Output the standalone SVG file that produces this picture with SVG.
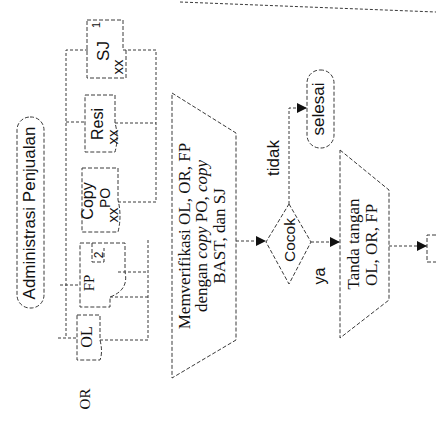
<svg xmlns="http://www.w3.org/2000/svg" width="436" height="425" viewBox="0 0 436 425">
<defs>
<style>
.sh{fill:none;stroke:#3a3a3a;stroke-width:1;stroke-dasharray:4 2}
.cn{fill:none;stroke:#3a3a3a;stroke-width:1;stroke-dasharray:3 2}
.sans{font-family:"Liberation Sans",Arial,sans-serif;fill:#111;text-anchor:middle}
.serif{font-family:"Liberation Serif","Times New Roman",serif;fill:#111;text-anchor:middle}
.it{font-style:italic}
</style>
<marker id="ah" viewBox="0 0 10 10" refX="10" refY="5" markerWidth="10" markerHeight="10" markerUnits="userSpaceOnUse" orient="auto"><path d="M0,0 L10,5 L0,10 z" fill="#111"/></marker>
</defs>
<rect width="436" height="425" fill="#fff"/>
<path class="cn" d="M180,2 L436,12"/>

<g id="start">
<rect class="sh" x="17" y="117" width="27" height="191" rx="13"/>
<text class="sans" font-size="17" transform="translate(35,213) rotate(-90)">Administrasi Penjualan</text>
</g>

<g id="doc-sj">
<path class="sh" d="M87,20 H123 V50 M126,50 V78 H87 V20"/>
<text class="sans" font-size="17" transform="translate(109,51) rotate(-90)">SJ</text>
<text class="sans" font-size="15" transform="translate(123,67) rotate(-90)">xx</text>
<text class="sans" font-size="11" transform="translate(100,25) rotate(-90)">1</text>
</g>
<g id="doc-resi">
<path class="sh" d="M85,95 H115 V123 Q119,137 115,152 H85 Z"/>
<text class="sans" font-size="16" transform="translate(103,124) rotate(-90)">Resi</text>
<text class="sans" font-size="15" transform="translate(118,137) rotate(-90)">xx</text>
</g>
<g id="doc-copypo">
<path class="sh" d="M82,168 H118 V200 Q122,216 118,232 H82 Z"/>
<text class="sans" font-size="16" transform="translate(93,201) rotate(-90)">Copy</text>
<text class="sans" font-size="14" transform="translate(110,198) rotate(-90)">PO</text>
<text class="sans" font-size="15" transform="translate(118,215) rotate(-90)">xx</text>
</g>
<g id="doc-fp">
<path class="sh" d="M80,243 H125 V272 Q129,290 110,297 V307 H80 Z"/>
<path class="sh" d="M92,243 V262 H104 V248"/>
<text class="serif" font-size="15" transform="translate(94,283) rotate(-90)">FP</text>
<text class="sans" font-size="12" transform="translate(103,255) rotate(-90)">2</text>
</g>
<g id="doc-ol">
<path class="sh" d="M77,315 H100 V340 Q103,352 100,360 H77 Z"/>
<text class="serif" font-size="16" transform="translate(92,337) rotate(-90)">OL</text>
</g>
<g id="doc-or">
<text class="serif" font-size="15" transform="translate(90,399) rotate(-90)">OR</text>
</g>

<g id="verify">
<polygon class="sh" points="172,93 236,133 236,340 172,378"/>
<text class="serif" font-size="17" transform="translate(190,236) rotate(-90)">Memverifikasi OL, OR, FP</text>
<text class="serif" font-size="17" transform="translate(207,236) rotate(-90)">dengan <tspan class="it">copy</tspan> PO, <tspan class="it">copy</tspan></text>
<text class="serif" font-size="17" transform="translate(225,236) rotate(-90)">BAST, dan SJ</text>
</g>

<g id="decision">
<polygon class="sh" points="289,204 311,242 289,284 266,242"/>
<text class="sans" font-size="15.5" transform="translate(295,240) rotate(-90)">Cocok</text>
</g>

<g id="end">
<rect class="sh" x="307" y="70" width="27" height="78" rx="13"/>
<text class="sans" font-size="17" transform="translate(324,109) rotate(-90)">selesai</text>
</g>

<g id="sign">
<polygon class="sh" points="340,150 389,190 389,300 340,338"/>
<text class="serif" font-size="17" transform="translate(359,244) rotate(-90)">Tanda tangan</text>
<text class="serif" font-size="17" transform="translate(377,245) rotate(-90)">OL, OR, FP</text>
</g>

<g id="offpage">
<path class="sh" d="M436,235 H427 V262 H436"/>
</g>

<g id="connectors">
<path class="cn" d="M88,50 H66 V338 M66,122 H85 M60,285 H80 M58,338 H77"/>
<path class="cn" d="M123,50 H156 V202 H118 M115,123 H156"/>
<path class="cn" d="M125,240 M148,240 V340 M118,272 H148 M110,297 H148 M100,340 H148"/>
<path class="cn" d="M236,241 H266" marker-end="url(#ah)"/>
<path class="cn" d="M311,242 H340" marker-end="url(#ah)"/>
<path class="cn" d="M289,204 V108 H307" marker-end="url(#ah)"/>
<path class="cn" d="M389,246 H427" marker-end="url(#ah)"/>
<text class="sans" font-size="17" transform="translate(279,158) rotate(-90)">tidak</text>
<text class="sans" font-size="16" transform="translate(325,276) rotate(-90)">ya</text>
</g>
</svg>
